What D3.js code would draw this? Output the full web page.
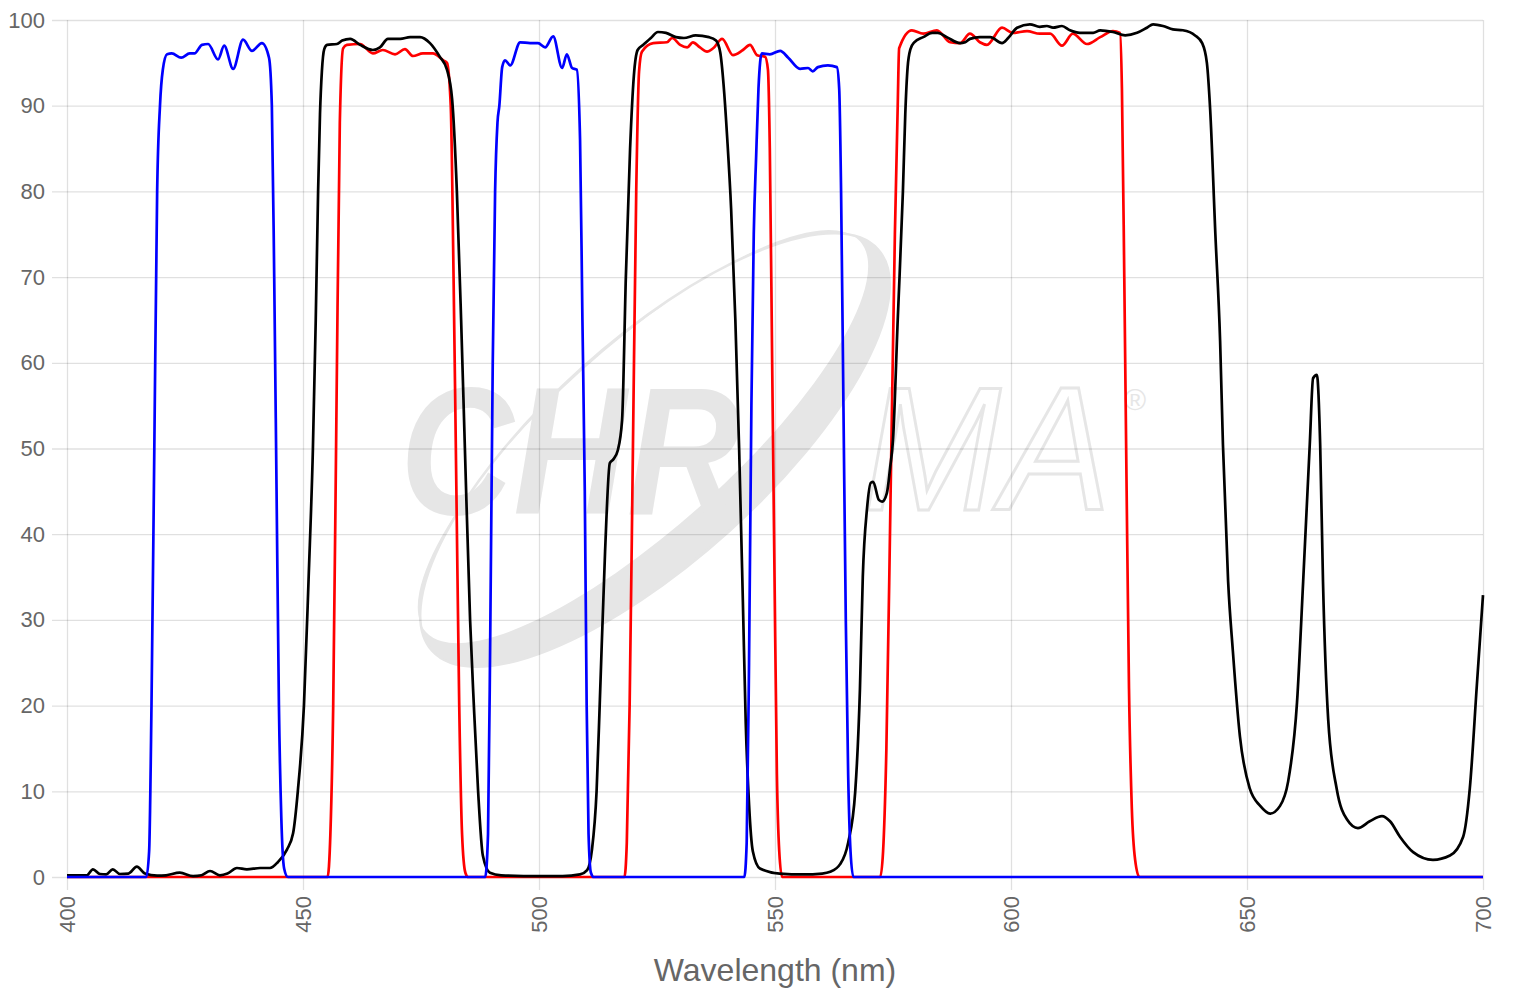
<!DOCTYPE html>
<html>
<head>
<meta charset="utf-8">
<script src="https://cdn.jsdelivr.net/npm/d3@7"></script>
<style>
  body { margin: 0; background: #fff; }
  svg { display: block; font-family: "Liberation Sans", Arial, sans-serif; }
</style>
</head>
<body>
<svg id="chart" width="1520" height="1000"></svg>
<script>
// spectra, [wavelength nm, transmission %]
var blueData = [
  [400,0],[416.8,0],[417.4,3],[417.9,20],[418.5,50],[419.1,80],[419.7,90],[420.3,94.2],[421.2,96.0],[422.2,96.1],
  [424.2,95.6],[426,96.1],[427,96.1],[428.6,97.1],[429.9,97.2],[432,95.4],[433.3,97.0],[435.2,94.3],[437.3,97.7],
  [439.2,96.4],[441.3,97.3],[442.8,95.6],[443.4,90],[443.9,70],[444.4,45],[444.9,20],[445.4,7],[446.0,1],[446.8,0],
  [488.6,0],[489.2,5],[489.7,30],[490.2,60],[490.7,80],[491.2,88],[491.6,90],[492.2,94.5],[492.8,95.3],[493.9,94.7],
  [496,97.4],[498.1,97.3],[499.8,97.3],[501.3,96.8],[503,98.1],[504.9,94.4],[505.9,96],[507,94.4],[508,94.2],
  [508.7,86],[509.2,65],[509.7,45],[510.1,20],[510.5,5],[511,0.5],[511.6,0],
  [543.5,0],[544,4],[544.5,25],[545,55],[545.5,75],[546,84],[546.5,92],[547.2,96.1],[548.9,96],[551.1,96.4],
  [552.8,95.6],[555.3,94.3],[557,94.4],[558,94.0],[559.1,94.5],[561.2,94.7],[563.1,94.5],[563.6,92],[564,80],
  [564.5,55],[565,30],[565.5,12],[566,3],[566.6,0],[700,0]
];

var redData = [
  [400,0],[455.2,0],[455.8,5],[456.4,20],[457.1,55],[457.8,88],[458.5,96.7],[459.3,97.1],[462.1,97.2],[464.8,96.1],
  [466.9,96.5],[469.5,96.0],[471.6,96.6],[473.3,95.8],[475.4,96.1],[477.5,96.1],[479.7,95.3],[480.5,95],[481.3,90],
  [481.9,70],[482.5,45],[483.1,20],[483.7,5],[484.4,0.5],[485,0],
  [518.1,0],[518.6,4],[519.2,20],[519.9,50],[520.6,80],[521.2,94],[521.8,96.3],[524.2,97.3],[527.1,97.4],[528.2,97.9],
  [529.9,97.1],[531.4,96.8],[532.6,97.4],[534.1,96.8],[535.6,96.3],[536.9,96.7],[538.8,97.8],[541.1,95.9],[543.2,96.5],
  [544.7,97.1],[546.2,95.9],[547.9,95.7],[548.5,94.2],[548.9,85],[549.4,60],[549.9,35],[550.4,12],[550.9,3],[551.5,0],
  [572.3,0],[572.9,3],[573.6,15],[574.5,45],[575.4,75],[576,90],[576.3,96.7],[579,98.8],[581.4,98.4],[584.3,98.8],
  [587.1,97.4],[589.2,97.3],[591.3,98.4],[593.4,97.4],[594.9,97.1],[598.1,99.1],[600.4,98.5],[603.4,98.7],[606.1,98.4],
  [608.3,98.4],[610.8,97],[613.1,98.4],[616.1,97.2],[618.9,98],[621.6,98.7],[623.1,98.5],[623.5,92],[624,70],
  [624.5,45],[625,22],[625.6,8],[626.3,2],[627.2,0],[700,0]
];

var blackData = [
  [400,0.2],[404.2,0.2],[405.5,0.9],[407,0.35],[408.3,0.3],[409.7,0.9],[411.2,0.35],[413,0.4],[414.8,1.2],[416.5,0.4],
  [419.1,0.15],[421,0.2],[423.9,0.5],[426.7,0.1],[428.5,0.2],[430.3,0.7],[432.4,0.2],[434,0.4],[436,1.05],[438.1,0.9],
  [440.9,1.05],[443,1.05],[444.7,1.75],[446.6,3.2],[447.9,5.1],[448.9,10],[450.2,20],[451.2,35],[452.1,50],[452.7,65],
  [453.2,80],[453.6,89],[454.0,94],[454.5,96.6],[455.1,97.1],[457.2,97.2],[458.3,97.6],[460,97.8],[462.1,97.1],[464.8,96.5],
  [466.3,96.8],[468,97.8],[470.6,97.8],[472.7,98],[474.8,98],[476.9,97.3],[479,95.7],[480.5,94.2],[481.6,90.7],
  [482.6,80],[483.5,65],[484.3,50],[485.4,30],[486.2,20],[487.1,10],[488.1,2.5],[489.6,0.5],[492,0.2],[500,0.1],
  [505,0.1],[508.7,0.3],[510.2,0.8],[511.2,3.1],[512.2,10],[512.9,20.7],[514,38],[515,48.3],[515.7,48.7],
  [516.7,49.8],[517.6,53.3],[518.4,70],[519.3,85],[520.1,93.5],[520.9,96.5],[522.1,97.1],[523.7,97.9],[525.2,98.6],
  [526.9,98.5],[529,98],[530.7,97.9],[533.2,98.2],[536,98],[537.5,97.6],[538.4,96.2],[539.1,92.5],[539.9,86],
  [540.7,78],[541.6,65],[542.4,50],[543.2,32],[543.8,18],[544.5,8.5],[545.3,3],[546.8,1],[551,0.4],[556,0.3],[560,0.4],[561.7,0.6],
  [563.8,1.5],[565.5,4],[567,10],[568,22],[568.6,35],[569.5,43],[570.3,46],[570.8,46.1],[572.0,44],[572.7,43.8],
  [573.7,44.8],[574.4,47.8],[575,51],[576,65],[577.1,80],[577.6,89],[578.1,94.5],[578.7,96.6],[579.5,97.4],[581.4,98],[583.3,98.5],
  [584.5,98.5],[586.4,98],[589.2,97.3],[590.3,97.4],[591.3,97.8],[593.4,98],[595.6,98],[598.1,97.3],[599.4,97.9],
  [601.3,99.1],[604,99.5],[606.1,99.2],[607.6,99.3],[608.9,99.1],[610.8,99.3],[612.5,98.8],[614.6,98.5],[617.4,98.5],
  [618.9,98.8],[621.6,98.6],[624.2,98.2],[626.7,98.5],[628.8,99.1],[630.1,99.5],[632.2,99.3],[634.3,98.9],[636.4,98.8],
  [639,98.2],[640.5,97.3],[641.5,95],[642.2,89.5],[643.3,75],[644.3,62.6],[644.9,50.5],[646,34.5],[647,26.4],
  [648.5,16.4],[650.6,10.3],[652.8,8.3],[654.9,7.4],[657,8.3],[658.7,11.1],[660.6,20.4],[661.9,34.5],[663.3,50.5],
  [664,58.2],[664.8,58.6],[665.5,50.5],[666.1,34.5],[667.2,18.4],[669,10.3],[671.2,6.7],[673.5,5.7],[676,6.5],
  [678.6,7.1],[680.3,6.5],[682.4,4.7],[685.2,2.9],[689.4,2.0],[693,2.5],[695.8,4.7],[697.2,10.3],[698.7,22.4],[700,32.9]
];

var xTicks = [400, 450, 500, 550, 600, 650, 700];
var yTicks = [0, 10, 20, 30, 40, 50, 60, 70, 80, 90, 100];
var xTitle = "Wavelength (nm)";

var margin = { top: 20, right: 37, bottom: 123, left: 67 },
    width = 1520 - margin.left - margin.right,
    height = 1000 - margin.top - margin.bottom;

var svg = d3.select("#chart");
var g = svg.append("g")
  .attr("transform", "translate(" + margin.left + "," + margin.top + ")");

var x = d3.scaleLinear().domain([400, 700]).range([0, width]);
var y = d3.scaleLinear().domain([0, 100]).range([height, 0]);

// watermark logo (behind grid)
var wm = g.append("g").attr("fill", "#e6e6e6");
wm.append("path")
  .attr("fill-rule", "evenodd")
  .attr("transform", "translate(588,430) rotate(-42)")
  .attr("d", "M-300,0a300,110 0 1,0 600,0a300,110 0 1,0 -600,0Z" +
             "M-292,-18a292,90 0 1,0 584,0a292,90 0 1,0 -584,0Z");
wm.append("ellipse")
  .attr("transform", "translate(588,430) rotate(-42)")
  .attr("rx", 300).attr("ry", 110)
  .attr("fill", "none").attr("stroke", "#e6e6e6").attr("stroke-width", 2.5);
wm.append("text")
  .attr("x", 333).attr("y", 494)
  .attr("font-size", 182).attr("font-weight", "bold").attr("font-style", "italic")
  .attr("textLength", 340).attr("lengthAdjust", "spacingAndGlyphs")
  .text("CHR");
wm.append("text")
  .attr("x", 796).attr("y", 490)
  .attr("font-size", 176).attr("font-style", "italic")
  .attr("fill", "none").attr("stroke", "#e6e6e6").attr("stroke-width", 3)
  .attr("textLength", 248).attr("lengthAdjust", "spacingAndGlyphs")
  .text("MA");
wm.append("text")
  .attr("x", 1068).attr("y", 390).attr("text-anchor", "middle")
  .attr("font-size", 30).attr("fill", "#e6e6e6")
  .text("\u00AE");

// grid + axes
var yAxis = g.append("g")
  .attr("transform", "translate(-15,0)")
  .call(d3.axisLeft(y).tickValues(yTicks).tickSize(-width - 15).tickPadding(7));
yAxis.select(".domain").remove();
yAxis.selectAll("line").attr("stroke", "rgba(0,0,0,0.12)").attr("stroke-width", 1.3);
yAxis.selectAll("text").attr("fill", "#666").attr("font-size", 22)
  .attr("font-family", "Liberation Sans, Arial, sans-serif");

var xAxis = g.append("g")
  .attr("transform", "translate(0," + height + ")")
  .call(d3.axisBottom(x).tickValues(xTicks).tickSize(-height).tickFormat(d3.format("d")));
xAxis.select(".domain").remove();
xAxis.selectAll("line").attr("stroke", "rgba(0,0,0,0.12)").attr("stroke-width", 1.3)
  .attr("y2", 13).attr("y1", -height);
xAxis.selectAll("text")
  .attr("fill", "#666").attr("font-size", 22)
  .attr("font-family", "Liberation Sans, Arial, sans-serif")
  .attr("text-anchor", "end")
  .attr("dy", "0.35em")
  .attr("transform", "translate(0,19) rotate(-90)")
  .attr("x", 0).attr("y", 0);

g.append("text")
  .attr("x", width / 2).attr("y", height + 104)
  .attr("text-anchor", "middle")
  .attr("fill", "#666").attr("font-size", 32)
  .text(xTitle);

// spectra
var line = d3.line()
  .x(function(d) { return x(d[0]); })
  .y(function(d) { return y(d[1]); })
  .curve(d3.curveMonotoneX);

var series = [
  { data: redData, color: "#ff0000" },
  { data: blackData, color: "#000000" },
  { data: blueData, color: "#0000ff" }
];
series.forEach(function(s) {
  g.append("path")
    .datum(s.data)
    .attr("fill", "none")
    .attr("stroke", s.color)
    .attr("stroke-width", 2.7)
    .attr("stroke-linejoin", "round")
    .attr("d", line);
});
</script>
</body>
</html>
